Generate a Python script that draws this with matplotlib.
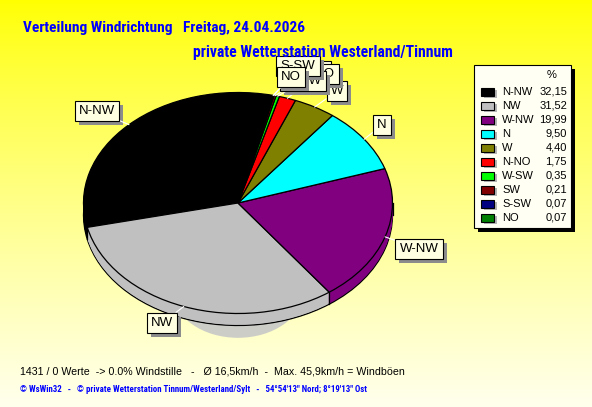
import os
import numpy as np
import matplotlib
matplotlib.use("Agg")
import matplotlib.pyplot as plt
from matplotlib import font_manager as fm
from matplotlib.patches import Rectangle

# Wind direction distribution (percent of readings)
directions = ["N-NW", "NW", "W-NW", "N", "W", "N-NO", "W-SW", "SW", "S-SW", "NO"]
shares = [32.15, 31.52, 19.99, 9.50, 4.40, 1.75, 0.35, 0.21, 0.07, 0.07]
colors = ["#000000", "#c0c0c0", "#800080", "#00ffff", "#808000",
          "#ff0000", "#00ff00", "#800000", "#000080", "#008000"]

title_1 = "Verteilung Windrichtung   Freitag, 24.04.2026"
title_2 = "private Wetterstation Westerland/Tinnum"
info_line = "1431 / 0 Werte  -> 0.0% Windstille   -   \u00d8 16,5km/h  -  Max. 45,9km/h = Windb\u00f6en"
footer = ("\u00a9 WsWin32   -   \u00a9 private Wetterstation Tinnum/Westerland/Sylt   -   "
          "54\u00b054'13'' Nord; 8\u00b019'13'' Ost")

W, H = 592, 407
fig = plt.figure(figsize=(W / 100, H / 100), dpi=100)

SANS = ["Liberation Sans", "DejaVu Sans"]


def condensed_font(bold):
    """Pick an installed narrow/condensed face, falling back to Liberation Sans."""
    prefs = ["liberation", "arial", "roboto", "noto", "opensans", "open", "dejavu"]
    best, best_rank = None, None
    for f in fm.fontManager.ttflist:
        base = os.path.basename(f.fname).lower()
        name = f.name.lower()
        cond = ("narrow" in base or "condensed" in base or "narrow" in name
                or "condensed" in name or f.stretch in ("condensed", "semi-condensed"))
        if not cond or f.style != "normal" or "italic" in base:
            continue
        w = f.weight if isinstance(f.weight, (int, float)) else fm.weight_dict.get(f.weight, 400)
        if bold != (w >= 600) or w >= 800:
            continue
        if any(k in base for k in ("extra", "ultra", "semi", "black", "light", "medium")):
            continue
        rank = next((i for i, p in enumerate(prefs) if p in base or p in name), len(prefs))
        if best_rank is None or rank < best_rank:
            best, best_rank = f, rank
    if best is None:
        return fm.FontProperties(family=SANS, weight="bold" if bold else "normal")
    return fm.FontProperties(fname=best.fname)


bold_narrow = condensed_font(True)

# --- background gradient -------------------------------------------------
bg = fig.add_axes([0, 0, 1, 1], zorder=0)
bg.axis("off")
t = np.linspace(0, 1, 256)[:, None]
blue = (t ** 0.8) * 0.93
img = np.dstack([np.ones_like(t), np.ones_like(t), blue])
bg.imshow(img, aspect="auto", extent=[0, 1, 0, 1], transform=bg.transAxes)

# --- pie axes: one data unit = ellipse radius --------------------------------
cx, cy = 238, 203          # centre of top face in pixels (from top-left)
rx, ry = 154.5, 110.5      # semi axes in pixels
depth = 12 / ry            # rim thickness in data units

ax = fig.add_axes([0, 0, 1, 1], zorder=1)
ax.patch.set_alpha(0)

start = 77

# soft drop shadow peeking out under the front rim
ax.pie([1], colors=["#cdcdc8"], radius=0.42, center=(0, -0.80),
       startangle=start, wedgeprops=dict(linewidth=0))

# rim: bottom outline, then filled layers up to the top face
ax.pie(shares, colors=colors, radius=1, center=(0, -depth), startangle=start,
       counterclock=True, wedgeprops=dict(edgecolor="black", linewidth=0.9))
n_layers = 14
for k in range(1, n_layers):
    ax.pie(shares, colors=colors, radius=1,
           center=(0, -depth + depth * k / n_layers), startangle=start,
           counterclock=True, wedgeprops=dict(linewidth=0))

# vertical edges on the front side of the rim
bounds = start + 360 * np.cumsum([0] + shares) / sum(shares)
for b in list(bounds) + [180, 360]:
    a = np.deg2rad(b % 360)
    if np.sin(a) <= 1e-9:
        ax.plot([np.cos(a), np.cos(a)], [np.sin(a), np.sin(a) - depth],
                color="black", lw=0.9, zorder=3)

# top face
wedges, _ = ax.pie(shares, colors=colors, radius=1, center=(0, 0),
                   startangle=start, counterclock=True,
                   wedgeprops=dict(edgecolor="black", linewidth=0.9))
for w in wedges:
    w.set_zorder(4)

ax.set_aspect("auto")
ax.set_xlim(-cx / rx, (W - cx) / rx)
ax.set_ylim(-(H - cy) / ry, cy / ry)
ax.axis("off")

# --- slice labels ---------------------------------------------------------
label_pos = {          # box centres in pixels (from top-left)
    "N-NW": (97, 111), "NW": (162, 323), "W-NW": (419, 249), "N": (382, 125),
    "W": (337, 91), "SW": (316, 71), "N-NO": (318, 74), "W-SW": (303, 81),
    "S-SW": (298, 66), "NO": (291, 77),
}
draw_order = ["N-NW", "NW", "W-NW", "N", "W", "SW", "N-NO", "W-SW", "S-SW", "NO"]
mids = {d: np.deg2rad((bounds[i] + bounds[i + 1]) / 2) for i, d in enumerate(directions)}

z = 10
for d in draw_order:
    px, py = label_pos[d]
    a = mids[d]
    box = dict(boxstyle="square,pad=0.32", fc="#ffffe1", ec="black", lw=0.8)
    shadow = dict(boxstyle="square,pad=0.32", fc="#8c8c8c", ec="none")
    ax.annotate(d, xy=(px + 4, H - py - 4), xycoords="figure pixels",
                ha="center", va="center", fontsize=9.5, family=SANS,
                color="#8c8c8c", bbox=shadow, zorder=z)
    ax.annotate(d, xy=(np.cos(a), np.sin(a)), xycoords="data",
                xytext=(px, H - py), textcoords="figure pixels",
                ha="center", va="center", fontsize=9.5, family=SANS,
                color="black", bbox=box, zorder=z + 1,
                arrowprops=dict(arrowstyle="-", color="white", lw=0.8,
                                shrinkA=0, shrinkB=0))
    z += 2

# --- titles and info text -------------------------------------------------
renderer = fig.canvas.get_renderer()


def fit_width(txt, width_px):
    w = txt.get_window_extent(renderer).width
    txt.set_fontsize(txt.get_fontsize() * width_px / w)


t1 = fig.text(23 / W, 1 - 28 / H, title_1, color="#0000ff", fontsize=11,
              fontproperties=bold_narrow, va="center", ha="left")
t2 = fig.text(193 / W, 1 - 52 / H, title_2, color="#0000ff", fontsize=11,
              fontproperties=bold_narrow, va="center", ha="left")
t3 = fig.text(20 / W, 1 - 371 / H, info_line, color="black", fontsize=8,
              family=SANS, va="center", ha="left")
t4 = fig.text(20 / W, 1 - 389 / H, footer, color="#0000ff", fontsize=6,
              fontproperties=bold_narrow, va="center", ha="left")
for txt, wpx in ((t1, 282), (t2, 259), (t3, 383), (t4, 349)):
    fit_width(txt, wpx)

# --- legend ---------------------------------------------------------------
lg = fig.add_axes([0, 0, 1, 1], zorder=5)
lg.set_xlim(0, W)
lg.set_ylim(H, 0)
lg.axis("off")
lg.patch.set_alpha(0)
lg.add_patch(Rectangle((478, 69), 97, 163, fc="black", ec="none"))
lg.add_patch(Rectangle((474, 65), 97, 163, fc="#fffff4", ec="black", lw=0.8))
lg.text(552, 75, "%", fontsize=8, family=SANS, ha="center", va="center")
for i, (d, v, c) in enumerate(zip(directions, shares, colors)):
    y = 92 + 14 * i
    lg.add_patch(Rectangle((484, y - 2), 13, 8, fc="#b4b4b4", ec="none"))
    lg.add_patch(Rectangle((481, y - 4), 13, 8, fc=c, ec="black", lw=0.8))
    lg.text(502, y, d, fontsize=8, family=SANS, ha="left", va="center")
    lg.text(567, y, f"{v:.2f}".replace(".", ","), fontsize=8, family=SANS,
            ha="right", va="center")

fig.savefig("out.png", dpi=100)
